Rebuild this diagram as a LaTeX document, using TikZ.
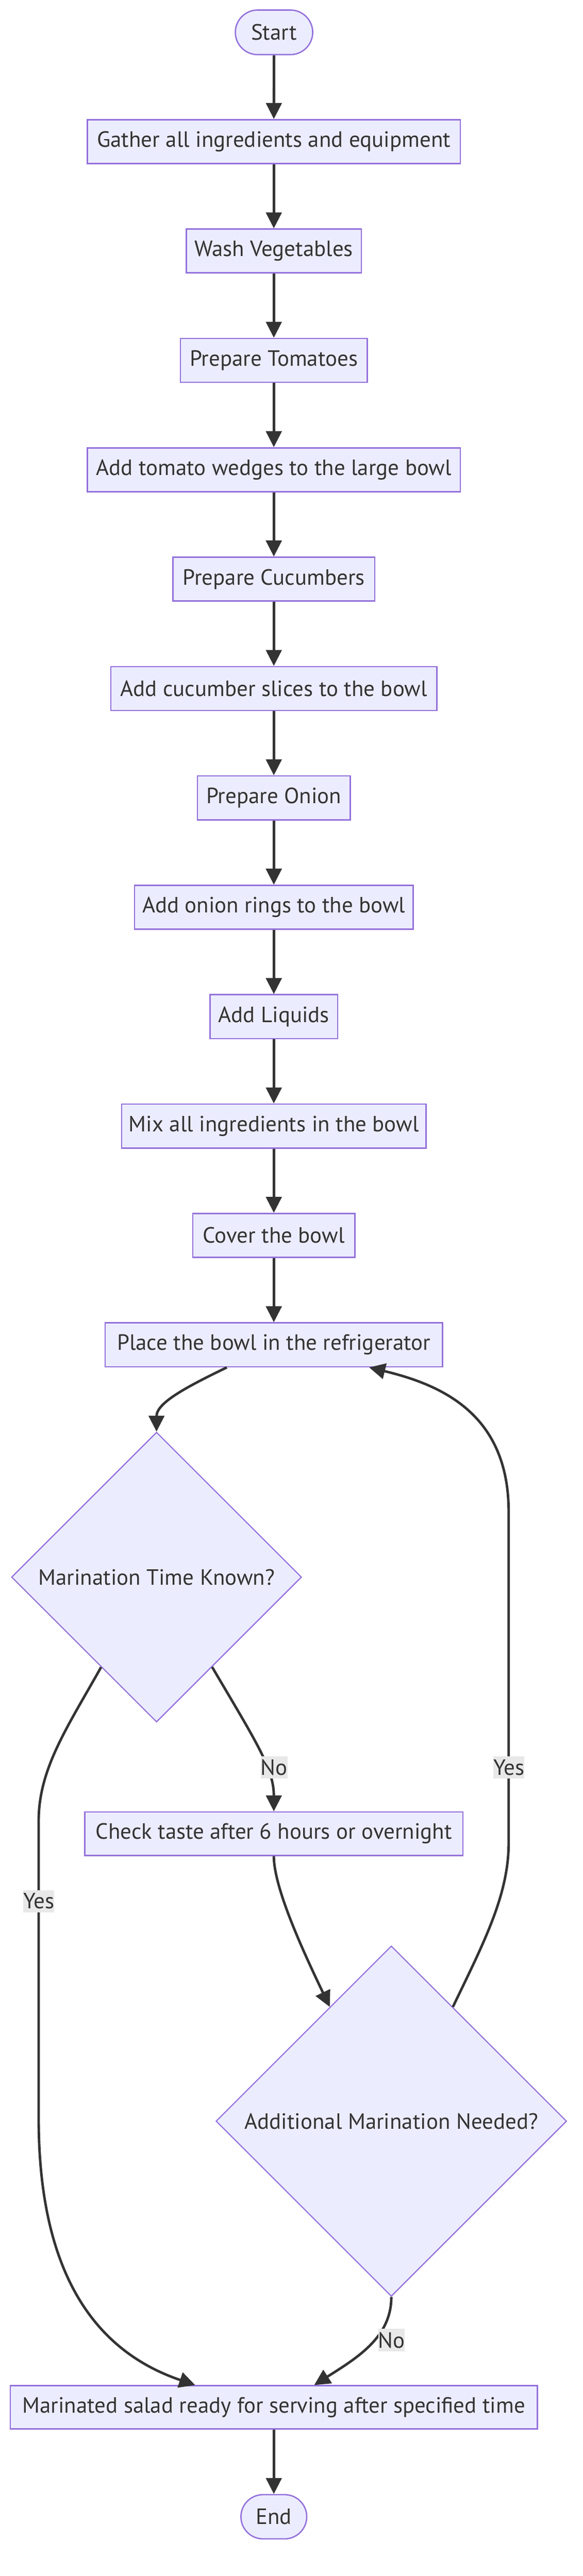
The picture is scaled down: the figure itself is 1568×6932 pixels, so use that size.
\documentclass[tikz,border=0pt]{standalone}
\usepackage{fontspec}
\setmainfont{PT Sans}
\usetikzlibrary{arrows.meta,shapes.geometric,calc}
\definecolor{nodefill}{HTML}{ECECFF}
\definecolor{nodeline}{HTML}{9370DB}
\definecolor{ink}{HTML}{333333}
\definecolor{lblbg}{HTML}{E8E8E8}
\newcommand{\txtfont}{\fontsize{59.5}{71}\selectfont}
\begin{document}
\begin{tikzpicture}[x=1pt,y=-1pt,
  box/.style={draw=nodeline,fill=nodefill,line width=3.6pt,inner sep=0pt,minimum height=118pt,text=ink,font=\txtfont},
  term/.style={box,rounded corners=60pt,minimum height=120pt},
  dec/.style={diamond,aspect=1,draw=nodeline,fill=nodefill,line width=3pt,inner sep=0pt,text=ink,font=\txtfont},
  arr/.style={draw=ink,line width=6.7pt,-{Triangle[length=43pt,width=42pt]}},
  lbl/.style={fill=lblbg,text=ink,inner xsep=0pt,inner ysep=0pt,minimum height=60pt,font=\txtfont}
]
\useasboundingbox (0,0) rectangle (1568,6932);
% nodes
\node[term,minimum width=208pt] (start) at (737,87) {Start};
\node[box,minimum width=1003pt] (gather) at (736.5,381) {Gather all ingredients and equipment};
\node[box,minimum width=471pt] (wash) at (736.5,675.4) {Wash Vegetables};
\node[box,minimum width=503pt] (tomprep) at (736.5,969.7) {Prepare Tomatoes};
\node[box,minimum width=1003pt] (tomadd) at (736.5,1264.1) {Add tomato wedges to the large bowl};
\node[box,minimum width=543pt] (cucprep) at (736.5,1558.4) {Prepare Cucumbers};
\node[box,minimum width=877pt] (cucadd) at (736.5,1852.8) {Add cucumber slices to the bowl};
\node[box,minimum width=411pt] (onprep) at (736.5,2147.1) {Prepare Onion};
\node[box,minimum width=749pt] (onadd) at (736.5,2441.5) {Add onion rings to the bowl};
\node[box,minimum width=343pt] (liquids) at (736.5,2735.8) {Add Liquids};
\node[box,minimum width=819pt] (mix) at (736.5,3030.2) {Mix all ingredients in the bowl};
\node[box,minimum width=436pt] (cover) at (736.5,3324.5) {Cover the bowl};
\node[box,minimum width=907pt] (place) at (736.5,3618.9) {Place the bowl in the refrigerator};
\node[dec,minimum width=780pt,minimum height=780pt] (d1) at (421,4244) {Marination Time Known?};
\node[box,minimum width=1017pt,minimum height=117pt] (check) at (736.5,4934.5) {Check taste after 6 hours or overnight};
\node[dec,minimum width=943pt,minimum height=943pt] (d2) at (1052.5,5708) {Additional Marination Needed?};
\node[box,minimum width=1417pt,minimum height=116pt] (marin) at (736.5,6478) {Marinated salad ready for serving after specified time};
\node[term,minimum width=177pt,minimum height=119pt,rounded corners=59.5pt] (end) at (736.5,6772.5) {End};
% straight edges
\draw[arr] (start.south) -- (gather.north);
\draw[arr] (gather.south) -- (wash.north);
\draw[arr] (wash.south) -- (tomprep.north);
\draw[arr] (tomprep.south) -- (tomadd.north);
\draw[arr] (tomadd.south) -- (cucprep.north);
\draw[arr] (cucprep.south) -- (cucadd.north);
\draw[arr] (cucadd.south) -- (onprep.north);
\draw[arr] (onprep.south) -- (onadd.north);
\draw[arr] (onadd.south) -- (liquids.north);
\draw[arr] (liquids.south) -- (mix.north);
\draw[arr] (mix.south) -- (cover.north);
\draw[arr] (cover.south) -- (place.north);
\draw[arr] (marin.south) -- (end.north);
% curved edges
\coordinate (d1se) at ($(d1.east)!0.618!(d1.south)$);
\coordinate (d1sw) at ($(d1.west)!0.619!(d1.south)$);
\coordinate (d2nw) at ($(d2.north)!0.35!(d2.west)$);
\coordinate (d2ne) at ($(d2.north)!0.35!(d2.east)$);
\draw[arr] ([xshift=-126.5pt]place.south) .. controls (500,3733) and (421,3775) .. (d1.north);
\draw[arr] (d1se) .. controls (690,4689) and (736.5,4760) .. (check.north);
\draw[arr] (check.south) .. controls (736.5,5080) and (814,5248) .. (d2nw);
\draw[arr] (d2ne) .. controls (1300,5230) and (1368,5100) .. (1368,4960) -- (1368,4068) .. controls (1368,3800) and (1180,3725) .. ([xshift=256.5pt]place.south);
\draw[arr] (d1sw) .. controls (180,4650) and (104,4760) .. (104,4900) -- (104,5700) .. controls (104,6150) and (280,6335) .. ([xshift=-211.5pt]marin.north);
\draw[arr] (d2.south) .. controls (1052.5,6290) and (960,6345) .. ([xshift=108.5pt]marin.north);
% edge labels
\node[lbl] (lno1) at (737,4756) {No};
\node[lbl] (lyes1) at (1368.5,4756) {Yes};
\node[lbl] (lyes2) at (104.5,5116) {Yes};
\node[lbl] (lno2) at (1053,6297) {No};
\end{tikzpicture}
\end{document}
